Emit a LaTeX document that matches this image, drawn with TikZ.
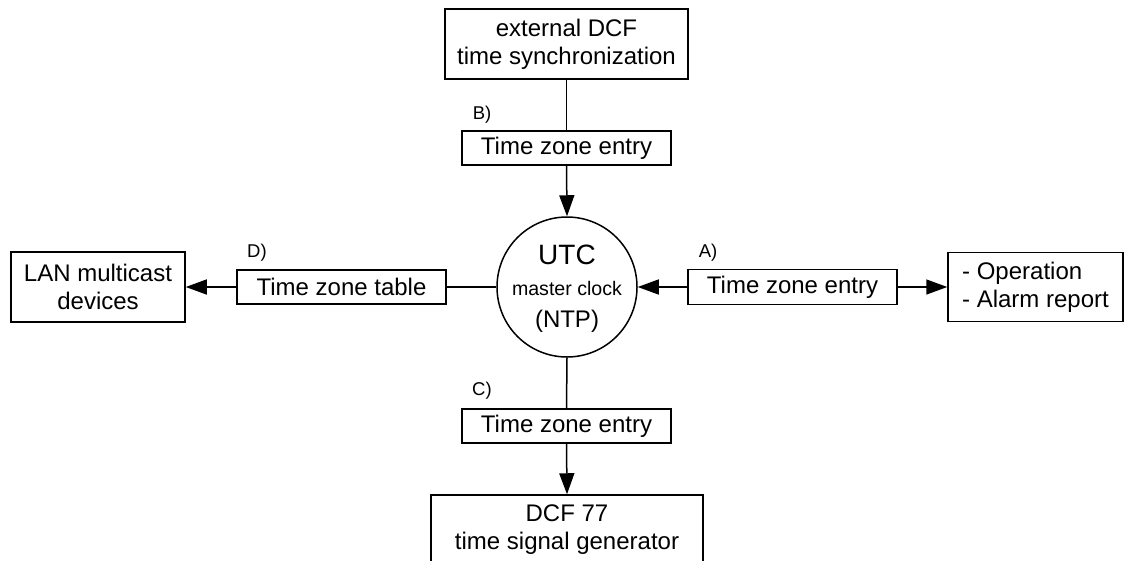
\documentclass[tikz,border=0pt]{standalone}
\usepackage{fontspec}
\setmainfont{Liberation Sans}
\usetikzlibrary{arrows.meta}
\tikzset{
  box/.style={draw, line width=1.5pt, inner sep=0pt, align=center, font=\fontsize{24}{28}\selectfont},
  lbl/.style={inner sep=0pt, font=\fontsize{18.5}{22}\selectfont},
  conn/.style={line width=1.5pt},
  arr/.style={line width=1.5pt, -{Triangle[length=21pt,width=15pt]}},
}
\begin{document}
\begin{tikzpicture}[x=1pt,y=-1pt]
\useasboundingbox (0,0) rectangle (1127,560);
\node[box, minimum width=243pt, minimum height=70pt] (top) at (566.5,44) {external DCF\\time synchronization};
\node[box, minimum width=209pt, minimum height=34pt] (tzB) at (566.5,148) {Time zone entry};
\node[draw, circle, line width=1.5pt, minimum size=140pt, inner sep=0pt] (utc) at (567,287) {};
\node[anchor=base, inner sep=0pt, font=\fontsize{28}{32}\selectfont] (utct) at (567,264) {UTC};
\node[anchor=base, inner sep=0pt, font=\fontsize{19.6}{22}\selectfont] (mclk) at (567,295) {master clock};
\node[anchor=base, inner sep=0pt, font=\fontsize{24}{28}\selectfont] (ntp) at (567,327) {(NTP)};
\node[box, minimum width=209pt, minimum height=35pt] (tzA) at (792.5,287) {Time zone entry};
\node[box, minimum width=175pt, minimum height=69pt, align=left] (ops) at (1035.5,287) {- Operation\\- Alarm report};
\node[box, minimum width=209pt, minimum height=34pt] (tzD) at (341.5,287) {Time zone table};
\node[box, minimum width=174pt, minimum height=70pt] (lan) at (98,287) {LAN multicast\\devices};
\node[box, minimum width=209pt, minimum height=34pt] (tzC) at (566.5,426) {Time zone entry};
\node[box, minimum width=272pt, minimum height=70pt] (dcf) at (567,530) {DCF 77\\time signal generator};
\node[lbl] (lB) at (482,115) {B)};
\node[lbl] (lA) at (708,253) {A)};
\node[lbl] (lD) at (257,253) {D)};
\node[lbl] (lC) at (482,391) {C)};
\draw[conn] (top.south) -- (tzB.north);
\draw[arr] (tzB.south) -- (utc.north);
\draw[arr] (tzA.west) -- (utc.east);
\draw[arr] (tzA.east) -- (ops.west);
\draw[conn] (utc.west) -- (tzD.east);
\draw[arr] (tzD.west) -- (lan.east);
\draw[conn] (utc.south) -- (tzC.north);
\draw[arr] (tzC.south) -- (dcf.north);
\end{tikzpicture}
\end{document}
